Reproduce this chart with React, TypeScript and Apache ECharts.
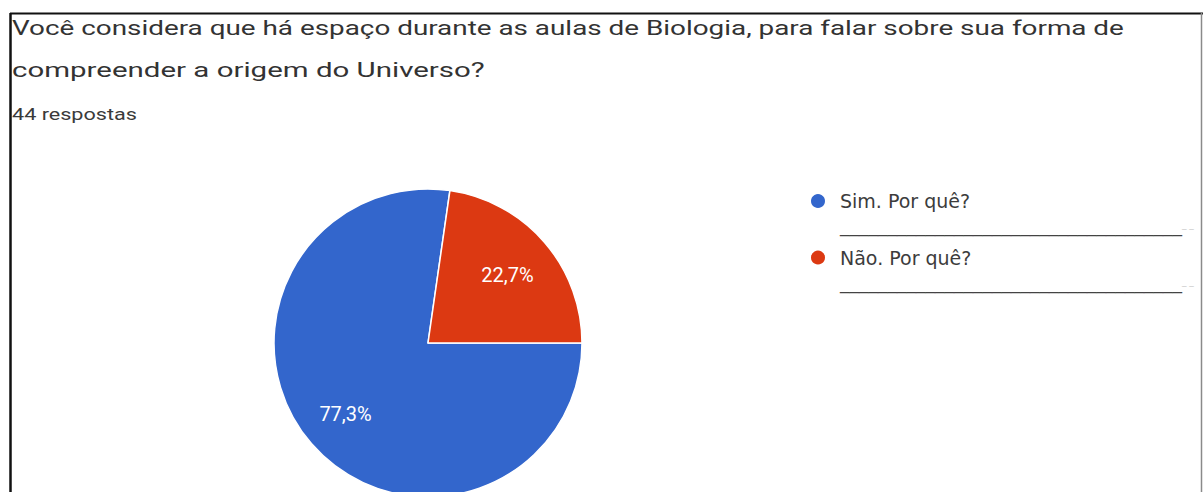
import React, { useEffect, useRef } from "react";
import * as echarts from "echarts";

const titleLines: string[] = [
  "Você considera que há espaço durante as aulas de Biologia, para falar sobre sua forma de",
  "compreender a origem do Universo?",
];
const responsesText = "44 respostas";
const categories: string[] = ["Sim. Por quê?", "Não. Por quê?"];
const counts: number[] = [34, 10];
const colors: string[] = ["#3366cc", "#dc3912"];

function measure(text: string, font: string): number {
  const ctx = document.createElement("canvas").getContext("2d");
  if (!ctx) return text.length * 10;
  ctx.font = font;
  return ctx.measureText(text).width;
}

export default function App() {
  const ref = useRef<HTMLDivElement>(null);

  useEffect(() => {
    document.body.style.margin = "0";
    if (!ref.current) return;
    const chart = echarts.init(ref.current, null, { renderer: "svg" });
    const total = counts.reduce((a, b) => a + b, 0);
    const underline = "_".repeat(36);

    const titleFont = "21px Roboto";
    const respFont = "16px Roboto";
    const targets = [1113, 473];
    const titleGraphics = titleLines.map((t, i) => ({
      type: "text",
      x: 12,
      y: [28, 70][i],
      scaleX: targets[i] / measure(t, titleFont),
      silent: true,
      style: {
        text: t,
        font: titleFont,
        fill: "#333333",
        verticalAlign: "middle",
      },
    }));

    const L = 24;
    const option: any = {
      animation: false,
      backgroundColor: "#ffffff",
      color: colors,
      legend: {
        orient: "vertical",
        left: 804,
        top: 160,
        icon: "circle",
        itemWidth: 34,
        itemHeight: 16,
        itemGap: -13,
        selectedMode: false,
        data: categories,
        formatter: (name: string) => `{g| }\n{t|${name}}\n{u|${underline}}{d|_ _}`,
        textStyle: {
          fontFamily: "DejaVu Sans",
          fontSize: 19,
          color: "#3c3c3c",
          rich: {
            g: { lineHeight: L, height: L, fontSize: 19 },
            t: { lineHeight: L, fontSize: 19, fontFamily: "DejaVu Sans", color: "#3c3c3c" },
            u: { lineHeight: L, fontSize: 19, fontFamily: "DejaVu Sans", color: "#444444" },
            d: { lineHeight: L, fontSize: 9, fontFamily: "DejaVu Sans", color: "#c8c8c8" },
          },
        },
      },
      series: [
        {
          type: "pie",
          center: [428, 343],
          radius: 154,
          startAngle: 0,
          clockwise: true,
          avoidLabelOverlap: false,
          data: categories.map((name, i) => ({
            name,
            value: counts[i],
            label: { offset: [[-22, 19], [19, -16]][i] },
          })),
          label: {
            show: true,
            position: "inside",
            color: "#ffffff",
            fontSize: 20,
            fontFamily: "Roboto",
            formatter: (p: any) => ((p.value / total) * 100).toFixed(1).replace(".", ",") + "%",
          },
          labelLine: { show: false },
          itemStyle: { borderColor: "#ffffff", borderWidth: 1.5 },
          emphasis: { disabled: true },
        },
      ],
      graphic: [
        ...titleGraphics,
        {
          type: "text",
          x: 12,
          y: 115,
          scaleX: 125 / measure(responsesText, respFont),
          silent: true,
          style: { text: responsesText, font: respFont, fill: "#3a3a3a", verticalAlign: "middle" },
        },
        {
          type: "line",
          silent: true,
          shape: { x1: 10, y1: 13.5, x2: 1203, y2: 13.5 },
          style: { stroke: "#111111", lineWidth: 2 },
        },
        {
          type: "line",
          silent: true,
          shape: { x1: 10.5, y1: 13, x2: 10.5, y2: 492 },
          style: { stroke: "#111111", lineWidth: 2.5 },
        },
        {
          type: "line",
          silent: true,
          shape: { x1: 1201.5, y1: 13, x2: 1201.5, y2: 492 },
          style: { stroke: "#8a8a8a", lineWidth: 1.5 },
        },
      ],
    };
    chart.setOption(option);
    return () => chart.dispose();
  }, []);

  return <div ref={ref} style={{ width: 1203, height: 492 }} />;
}
